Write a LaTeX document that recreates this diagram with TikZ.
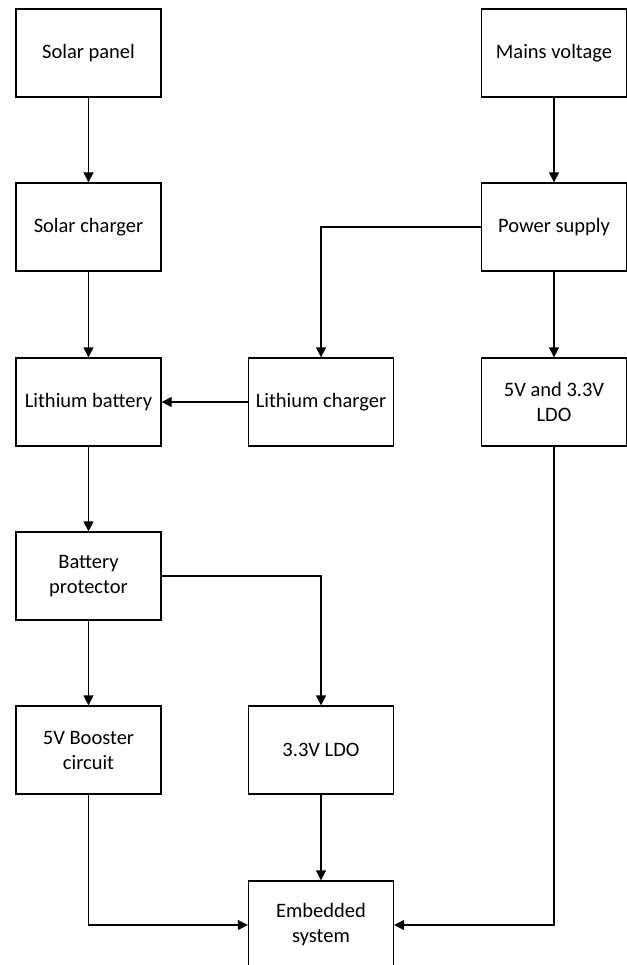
\documentclass[tikz,border=0pt]{standalone}
\usepackage{fontspec}
\setmainfont{Carlito}
\usepackage{tikz}
\usetikzlibrary{arrows.meta, positioning}

\begin{document}
\begin{tikzpicture}[
    x=1pt, y=-1pt,
    block/.style={draw, line width=1.3pt, minimum width=145pt, minimum height=88pt, inner sep=2pt, align=center, font=\fontsize{20.5}{25}\selectfont},
    arrow/.style={-{Triangle[length=10pt, width=10pt]}, line width=1.3pt}
]
\useasboundingbox (0,0) rectangle (626,965);

% Blocks
\node[block] (panel) at (88.5,53) {Solar panel};
\node[block] (mains) at (554,53) {Mains voltage};
\node[block] (scharger) at (88.5,227) {Solar charger};
\node[block] (psu) at (554,227) {Power supply};
\node[block] (battery) at (88.5,402) {Lithium battery};
\node[block] (lcharger) at (321,402) {Lithium charger};
\node[block] (ldomain) at (554,402) {5V and 3.3V\\LDO};
\node[block] (protector) at (88.5,576) {Battery\\protector};
\node[block] (booster) at (88.5,750) {5V Booster\\circuit};
\node[block] (ldolow) at (321,750) {3.3V LDO};
\node[block] (embedded) at (321,925) {Embedded\\system};

% Connections
\draw[arrow] (panel) -- (scharger);
\draw[arrow] (scharger) -- (battery);
\draw[arrow] (mains) -- (psu);
\draw[arrow] (psu) -- (ldomain);
\draw[arrow] (psu.west) -| (lcharger.north);
\draw[arrow] (lcharger) -- (battery);
\draw[arrow] (battery) -- (protector);
\draw[arrow] (protector) -- (booster);
\draw[arrow] (protector.east) -| (ldolow.north);
\draw[arrow] (ldolow) -- (embedded);
\draw[arrow] (booster.south) |- (embedded.west);
\draw[arrow] (ldomain.south) |- (embedded.east);

\end{tikzpicture}
\end{document}
